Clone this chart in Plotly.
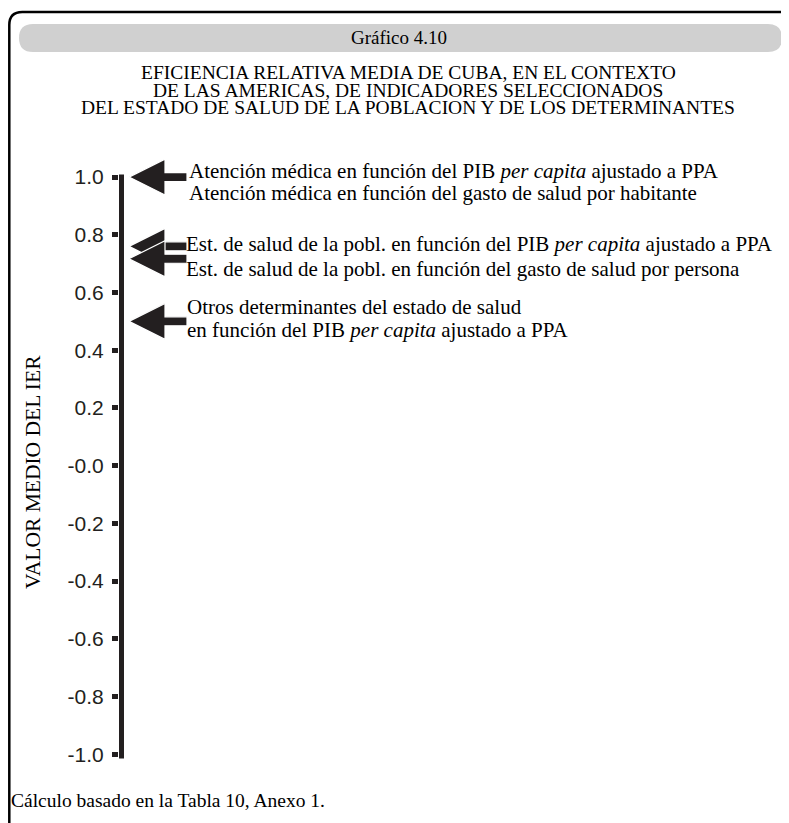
import plotly.graph_objects as go

# ---- data ----
arrow_values = [1.0, 0.76, 0.717, 0.50]
arrow_labels = [
    ["Atención médica en función del PIB <i>per capita</i> ajustado a PPA",
     "Atención médica en función del gasto de salud por habitante"],
    ["Est. de salud de la pobl. en función del PIB <i>per capita</i> ajustado a PPA"],
    ["Est. de salud de la pobl. en función del gasto de salud por persona"],
    ["Otros determinantes del estado de salud",
     "en función del PIB <i>per capita</i> ajustado a PPA"],
]
tick_values = [1.0, 0.8, 0.6, 0.4, 0.2, 0.0, -0.2, -0.4, -0.6, -0.8, -1.0]
tick_labels = ["1.0", "0.8", "0.6", "0.4", "0.2", "-0.0", "-0.2", "-0.4", "-0.6", "-0.8", "-1.0"]
title_text = "Gráfico 4.10"
title_lines = [
    "EFICIENCIA RELATIVA MEDIA DE CUBA, EN EL CONTEXTO",
    "DE LAS AMERICAS, DE INDICADORES SELECCIONADOS",
    "DEL ESTADO DE SALUD DE LA POBLACION Y DE LOS DETERMINANTES",
]
y_title = "VALOR MEDIO DEL IER"
footer = "Cálculo basado en la Tabla 10, Anexo 1."

# ---- layout geometry (pixels; page body adds an 8px margin) ----
OFF = 8
W, H = 789 - OFF, 823 - OFF
Y0, Y1 = -1.02, 1.08
ML, MT = 119 - OFF, 146
PH = 606
MB = H - MT - PH
PW = W - ML
ppu = PH / (Y1 - Y0)

# per-line vertical offsets of the arrow labels (pixels, + is down)
label_line_dy = [[-6, 16], [-2], [10.5], [-14.5, 8.5]]
label_left = [187, 184, 184, 185]

INK = "#231f20"
SERIF = "Liberation Serif, Times New Roman, serif"
SANS = "Liberation Sans, Arial, sans-serif"


def dx(p):  # reference page x -> x-axis units
    return p - 119


def paper_x(px):
    return (px - OFF - ML) / PW


def paper_y(py):
    return (H - MB - (py - OFF)) / PH


fig = go.Figure()

# the thick vertical axis line, from -1 to 1
ext = 2.5 / ppu
fig.add_trace(go.Scatter(
    x=[dx(121.5), dx(121.5)], y=[tick_values[-1] - ext - 0.006, tick_values[0] + ext],
    mode="lines", line=dict(color=INK, width=5), hoverinfo="skip", showlegend=False,
))

# arrows pointing at each value
tip, head_end, shaft_end = dx(129), dx(165), dx(187)
hh = 18 / ppu
sh = 4.5 / ppu
for v in arrow_values:
    xs = [tip, head_end, head_end, shaft_end, shaft_end, head_end, head_end, tip]
    ys = [v, v + hh, v + sh, v + sh, v - sh, v - sh, v - hh, v]
    fig.add_trace(go.Scatter(
        x=xs, y=ys, mode="lines", fill="toself", fillcolor=INK,
        line=dict(color="white", width=1.2), hoverinfo="skip", showlegend=False,
    ))

annotations = []
for v, lines, dys, lx in zip(arrow_values, arrow_labels, label_line_dy, label_left):
    for line, d in zip(lines, dys):
        annotations.append(dict(
            x=dx(lx), y=v, xref="x", yref="y", text=line, showarrow=False,
            xanchor="left", yanchor="middle", align="left", yshift=-d,
            font=dict(family=SERIF, size=21, color="black"),
        ))

annotations.append(dict(
    x=paper_x(399), y=paper_y(38), xref="paper", yref="paper", text=title_text,
    showarrow=False, xanchor="center", yanchor="middle",
    font=dict(family=SERIF, size=19, color="black"),
))
for i, t in enumerate(title_lines):
    annotations.append(dict(
        x=paper_x(408), y=paper_y(72.5 + 17.5 * i), xref="paper", yref="paper", text=t,
        showarrow=False, xanchor="center", yanchor="middle",
        font=dict(family=SERIF, size=19.5, color="black"),
    ))

annotations.append(dict(
    x=paper_x(33), y=paper_y(472), xref="paper", yref="paper", text=y_title,
    showarrow=False, textangle=-90, xanchor="center", yanchor="middle",
    font=dict(family=SERIF, size=21.5, color="black"),
))

annotations.append(dict(
    x=paper_x(9), y=paper_y(800), xref="paper", yref="paper", text=footer,
    showarrow=False, xanchor="left", yanchor="middle",
    font=dict(family=SERIF, size=19.5, color="black"),
))

shapes = []
fx, fy, r = 9.3, 12, 13
frame_path = (
    f"M {paper_x(fx)},{paper_y(823 + 10)} L {paper_x(fx)},{paper_y(fy + r)} "
    f"Q {paper_x(fx)},{paper_y(fy)} {paper_x(fx + r)},{paper_y(fy)} "
    f"L {paper_x(789 + 10)},{paper_y(fy)}"
)
shapes.append(dict(type="path", xref="paper", yref="paper", path=frame_path,
                   line=dict(color="black", width=2.5), layer="above"))
bx0, bx1, by0, by1 = 19, 782, 24, 52
rr = (by1 - by0) / 2
pill = (
    f"M {paper_x(bx0 + rr)},{paper_y(by0)} L {paper_x(bx1 - rr)},{paper_y(by0)} "
    f"Q {paper_x(bx1)},{paper_y(by0)} {paper_x(bx1)},{paper_y(by0 + rr)} "
    f"Q {paper_x(bx1)},{paper_y(by1)} {paper_x(bx1 - rr)},{paper_y(by1)} "
    f"L {paper_x(bx0 + rr)},{paper_y(by1)} "
    f"Q {paper_x(bx0)},{paper_y(by1)} {paper_x(bx0)},{paper_y(by0 + rr)} "
    f"Q {paper_x(bx0)},{paper_y(by0)} {paper_x(bx0 + rr)},{paper_y(by0)} Z"
)
shapes.append(dict(type="path", xref="paper", yref="paper", path=pill,
                   fillcolor="#d0d0d0", line=dict(width=0), layer="below"))

fig.update_layout(
    width=W, height=H,
    margin=dict(l=ML, r=0, t=MT, b=MB, pad=0),
    paper_bgcolor="white", plot_bgcolor="white",
    showlegend=False,
    xaxis=dict(range=[0, PW], visible=False, fixedrange=True),
    yaxis=dict(
        range=[Y0, Y1], showgrid=False, zeroline=False, showline=False,
        ticks="outside", ticklen=6, tickwidth=5, tickcolor=INK,
        tickvals=tick_values, ticktext=tick_labels, ticklabelstandoff=4,
        tickfont=dict(family=SANS, size=21, color=INK),
        fixedrange=True,
    ),
    annotations=annotations,
    shapes=shapes,
)

fig.write_html("out.html")
